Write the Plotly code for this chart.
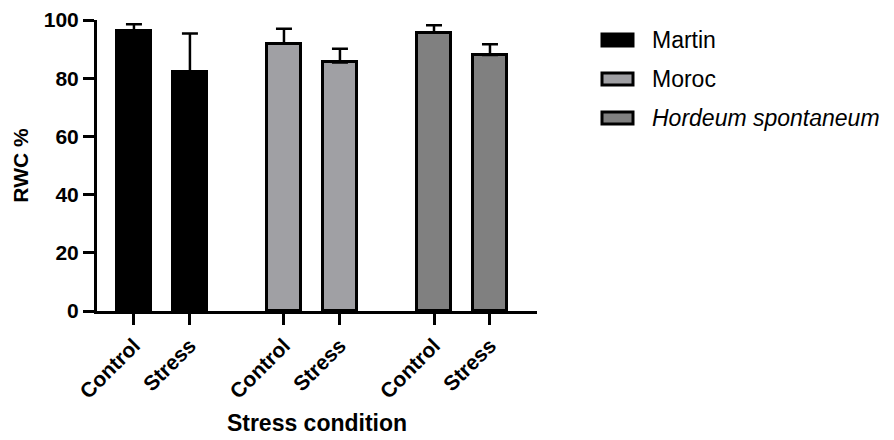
import plotly.graph_objects as go

# ---- data ----
genotypes = ["Martin", "Moroc", "Hordeum spontaneum"]
conditions = ["Control", "Stress"]
rwc_mean = {
    "Martin": [96.3, 82.2],
    "Moroc": [91.8, 85.4],
    "Hordeum spontaneum": [95.6, 88.0],
}
rwc_sd = {
    "Martin": [2.2, 13.2],
    "Moroc": [5.2, 4.7],
    "Hordeum spontaneum": [2.6, 3.7],
}
colors = {"Martin": "#000000", "Moroc": "#A0A0A4", "Hordeum spontaneum": "#808080"}
legend_labels = {"Martin": "Martin", "Moroc": "Moroc", "Hordeum spontaneum": "<i>Hordeum spontaneum</i>"}
y_ticks = [0, 20, 40, 60, 80, 100]

# ---- layout helpers ----
GROUP_STEP = 2.68
FONT = "Liberation Sans, Arial, sans-serif"
L, R, T, B = 97, 357, 20, 129
W, H = 894, 440
PW, PH = W - L - R, H - T - B

fig = go.Figure()
tickvals, ticktext = [], []
for g, name in enumerate(genotypes):
    xs = [g * GROUP_STEP + i for i in range(len(conditions))]
    tickvals += xs
    ticktext += conditions
    fig.add_trace(go.Bar(
        x=xs, y=rwc_mean[name], name=name, width=0.62,
        marker=dict(color=colors[name], line=dict(color="black", width=3)),
        error_y=dict(type="data", symmetric=False, array=rwc_sd[name],
                     arrayminus=[0] * len(xs), color="black", thickness=2.5, width=8),
        showlegend=False,
    ))

# custom legend (wide swatches like the original)
row_y = [40, 79, 118]
for name, py in zip(genotypes, row_y):
    x0 = (602 - L) / PW
    x1 = (633 - L) / PW
    y0 = (H - B - (py + 6)) / PH
    y1 = (H - B - (py - 6)) / PH
    fig.add_shape(type="rect", xref="paper", yref="paper", x0=x0, x1=x1, y0=y0, y1=y1,
                  fillcolor=colors[name], line=dict(color="black", width=3))
    fig.add_annotation(xref="paper", yref="paper", x=(650 - L) / PW, y=(H - B - py) / PH,
                       xanchor="left", yanchor="middle", showarrow=False,
                       text=legend_labels[name], font=dict(family=FONT, size=23, color="black"))

fig.update_layout(
    width=W, height=H, margin=dict(l=L, r=R, t=T, b=B),
    plot_bgcolor="white", paper_bgcolor="white",
    font=dict(family=FONT, color="black"),
    bargap=0,
)
fig.update_xaxes(
    range=[-0.66, 7.2], tickvals=tickvals, ticktext=ticktext, tickangle=-45,
    automargin=False,
    showline=True, linecolor="black", linewidth=3, showgrid=False, zeroline=False,
    ticks="outside", ticklen=11, tickwidth=3, tickcolor="black",
    tickfont=dict(family=FONT, size=21, weight="bold", color="black"),
    title=dict(text="Stress condition", standoff=14,
               font=dict(family=FONT, size=23, weight="bold", color="black")),
)
fig.update_yaxes(
    range=[0, 100], tickvals=y_ticks, automargin=False,
    showline=True, linecolor="black", linewidth=3, showgrid=False, zeroline=False,
    ticks="outside", ticklen=11, tickwidth=3, tickcolor="black",
    tickfont=dict(family=FONT, size=21, weight="bold", color="black"),
    title=dict(text="RWC %", standoff=10,
               font=dict(family=FONT, size=21, weight="bold", color="black")),
)

fig.write_html("out.html")
